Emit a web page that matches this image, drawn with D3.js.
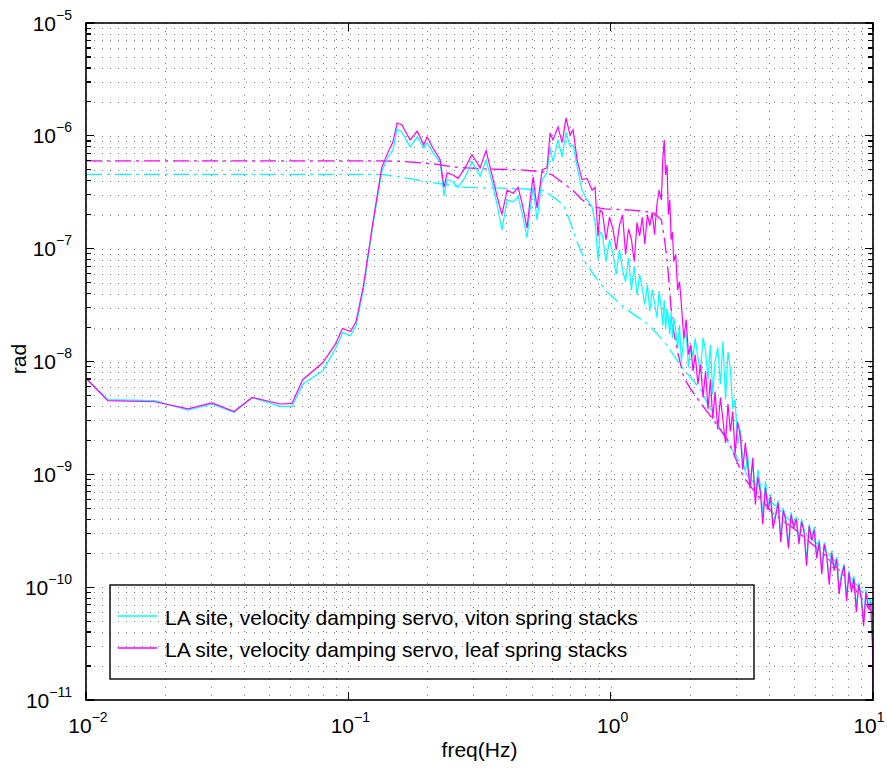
<!DOCTYPE html>
<html>
<head>
<meta charset="utf-8">
<script src="https://cdn.jsdelivr.net/npm/d3@7"></script>
<style>
    body { margin: 0; background: #ffffff; }
    svg { font-family: "Liberation Sans", Arial, Helvetica, sans-serif; }
    .grid line { stroke: #000; stroke-width: 1; stroke-dasharray: 1, 7; shape-rendering: crispEdges; opacity: 0.5; }
    .tick-mark { stroke: #000; stroke-width: 1.2; shape-rendering: crispEdges; }
</style>
</head>
<body>
<svg class="spectrum" width="887" height="769"></svg>
<script>
// frequency bins (Hz), shared by both solid curves
const freq = [
    0.0100, 0.0121, 0.0183, 0.0245, 0.0302, 0.0367, 0.0430, 0.0550, 0.0610, 0.0670,
    0.0800, 0.0890, 0.0950, 0.1020, 0.1070, 0.1140, 0.1240, 0.1340, 0.1417, 0.1480,
    0.1534, 0.1600, 0.1720, 0.1830, 0.1940, 0.1995, 0.2100, 0.2240, 0.2316, 0.2380,
    0.2507, 0.2620, 0.2786, 0.2960, 0.3180, 0.3350, 0.3530, 0.3690, 0.3850, 0.4030,
    0.4250, 0.4436, 0.4590, 0.4800, 0.4930, 0.5060, 0.5240, 0.5480, 0.5720, 0.5875,
    0.6030, 0.6300, 0.6530, 0.6760, 0.7000, 0.7190, 0.7450, 0.7780, 0.8130, 0.8490,
    0.8720, 0.8950, 0.9110,
    0.93, 0.96, 0.99, 1.02, 1.05, 1.08, 1.11, 1.14, 1.17, 1.20,
    1.23, 1.26, 1.29, 1.32, 1.35, 1.38, 1.41, 1.44, 1.47, 1.50,
    1.53, 1.56, 1.58, 1.60, 1.62, 1.64, 1.66, 1.68, 1.70, 1.72,
    1.74, 1.77, 1.80, 1.83, 1.86, 1.90, 1.94, 1.98, 2.02, 2.06,
    2.10, 2.15, 2.20, 2.25, 2.30, 2.35, 2.40, 2.45, 2.50, 2.56,
    2.62, 2.68, 2.74, 2.80, 2.86, 2.92, 2.98, 3.05, 3.12, 3.19,
    3.26, 3.33, 3.40, 3.48, 3.56, 3.64, 3.72, 3.80, 3.89, 3.98,
    4.07, 4.16, 4.25, 4.35, 4.45, 4.55, 4.65, 4.76, 4.87, 4.98,
    5.10, 5.22, 5.34, 5.46, 5.58, 5.71, 5.84, 5.97, 6.10, 6.24,
    6.38, 6.52, 6.66, 6.81, 6.96, 7.11, 7.27, 7.43, 7.59, 7.76,
    7.93, 8.10, 8.28, 8.46, 8.64, 8.83, 9.02, 9.21, 9.40, 9.60,
    9.80, 9.95, 10.0
];

// viton spring stacks (cyan), rad
const vitonStack = [
    7.1e-9, 4.6e-9, 4.5e-9, 3.7e-9, 4.2e-9, 3.55e-9, 4.8e-9, 4.0e-9, 4.0e-9, 6.3e-9,
    8.3e-9, 1.28e-8, 1.8e-8, 1.7e-8, 2.08e-8, 4.3e-8, 1.6e-7, 4.8e-7, 6.5e-7, 7.5e-7,
    1.15e-6, 1.08e-6, 8.0e-7, 9.8e-7, 7.8e-7, 8.7e-7, 7.1e-7, 5.8e-7, 2.95e-7, 4.1e-7,
    3.9e-7, 3.5e-7, 4.3e-7, 5.9e-7, 4.4e-7, 6.1e-7, 3.9e-7, 2.45e-7, 1.47e-7, 2.7e-7,
    2.6e-7, 2.9e-7, 2.1e-7, 1.25e-7, 2.2e-7, 3.5e-7, 1.8e-7, 4.1e-7, 4.7e-7, 7.8e-7,
    5.9e-7, 9.2e-7, 6.5e-7, 1.08e-6, 8.0e-7, 8.3e-7, 5.3e-7, 3.3e-7, 2.7e-7, 2.35e-7,
    1.7e-7, 8.0e-8, 1.4e-7,
    1.33e-7, 7.7e-8, 1.2e-7, 9.0e-8, 5.9e-8, 9.8e-8, 6.5e-8, 5.1e-8, 8.3e-8, 4.3e-8,
    7.0e-8, 3.9e-8, 5.9e-8, 4.4e-8, 3.2e-8, 4.8e-8, 2.8e-8, 4.3e-8, 3.3e-8, 2.45e-8,
    4.2e-8, 2.9e-8, 2.1e-8, 3.5e-8, 1.92e-8, 3.0e-8, 2.4e-8, 1.74e-8, 2.8e-8, 1.6e-8,
    2.45e-8, 1.9e-8, 1.3e-8, 2.1e-8, 1.0e-8, 1.6e-8, 1.74e-8, 8.85e-9, 1.4e-8, 1.1e-8,
    1.6e-8, 1.1e-8, 8.0e-9, 1.63e-8, 1.25e-8, 6.9e-9, 1.4e-8, 5.1e-9, 1.0e-8, 1.33e-8,
    6.3e-9, 1.5e-8, 4.6e-9, 1.22e-8, 8.5e-9, 3.8e-9, 4.6e-9, 1.85e-9, 2.5e-9, 1.3e-9,
    1.06e-9, 1.5e-9, 7.7e-10, 1.3e-9, 6.0e-10, 1.1e-9, 8.0e-10, 4.4e-10, 8.7e-10, 5.2e-10,
    6.65e-10, 3.6e-10, 4.5e-10, 5.9e-10, 2.7e-10, 5.0e-10, 4.1e-10, 2.4e-10, 4.6e-10, 3.6e-10,
    4.2e-10, 2.6e-10, 4.0e-10, 3.3e-10, 1.7e-10, 3.6e-10, 2.8e-10, 3.4e-10, 1.95e-10, 2.65e-10,
    1.4e-10, 2.5e-10, 2.0e-10, 1.15e-10, 2.1e-10, 1.5e-10, 1.85e-10, 9.5e-11, 1.35e-10, 1.6e-10,
    8.2e-11, 1.4e-10, 9.8e-11, 1.25e-10, 6.6e-11, 1.1e-10, 8.6e-11, 5.0e-11, 9.5e-11, 7.0e-11,
    7.7e-11, 3.5e-11, 1.25e-11
];

// leaf spring stacks (magenta), rad
const leafStack = [
    7.1e-9, 4.5e-9, 4.4e-9, 3.8e-9, 4.3e-9, 3.6e-9, 4.8e-9, 4.2e-9, 4.25e-9, 6.9e-9,
    9.8e-9, 1.41e-8, 1.96e-8, 1.84e-8, 2.26e-8, 4.6e-8, 1.7e-7, 5.2e-7, 7.2e-7, 8.85e-7,
    1.3e-6, 1.25e-6, 9.2e-7, 1.1e-6, 8.3e-7, 9.8e-7, 7.8e-7, 6.1e-7, 3.5e-7, 4.7e-7,
    4.5e-7, 4.2e-7, 5.2e-7, 6.8e-7, 5.2e-7, 7.4e-7, 4.5e-7, 2.9e-7, 2.0e-7, 3.3e-7,
    3.1e-7, 3.5e-7, 2.55e-7, 1.53e-7, 2.7e-7, 4.3e-7, 2.3e-7, 5.0e-7, 5.2e-7, 1.06e-6,
    9.2e-7, 1.2e-6, 8.7e-7, 1.44e-6, 1.02e-6, 1.13e-6, 6.1e-7, 4.1e-7, 4.2e-7, 3.3e-7,
    3.5e-7, 1.28e-7, 2.2e-7,
    2.1e-7, 1.2e-7, 1.9e-7, 1.5e-7, 9.8e-8, 1.6e-7, 2.0e-7, 8.9e-8, 1.5e-7, 1.2e-7,
    7.7e-8, 1.7e-7, 1.3e-7, 1.9e-7, 1.1e-7, 2.0e-7, 1.6e-7, 2.1e-7, 1.33e-7, 2.45e-7,
    3.3e-7, 2.7e-7, 6.1e-7, 9.2e-7, 4.5e-7, 5.5e-7, 2.0e-7, 2.7e-7, 1.2e-7, 1.4e-7,
    7.7e-8, 8.9e-8, 4.3e-8, 5.1e-8, 3.2e-8, 1.6e-8, 2.35e-8, 1.15e-8, 1.4e-8, 8.2e-9,
    1.15e-8, 6.3e-9, 9.4e-9, 4.8e-9, 8.2e-9, 3.8e-9, 6.9e-9, 3.1e-9, 5.4e-9, 2.5e-9,
    4.8e-9, 3.0e-9, 1.9e-9, 4.2e-9, 2.4e-9, 3.6e-9, 1.5e-9, 2.9e-9, 2.2e-9, 1.1e-9,
    1.9e-9, 1.2e-9, 7.5e-10, 1.4e-9, 5.4e-10, 9.5e-10, 7.0e-10, 3.6e-10, 7.6e-10, 4.8e-10,
    6.3e-10, 3.3e-10, 4.2e-10, 5.6e-10, 2.5e-10, 4.8e-10, 3.9e-10, 2.2e-10, 4.4e-10, 3.4e-10,
    4.0e-10, 2.4e-10, 3.8e-10, 3.1e-10, 1.55e-10, 3.47e-10, 2.6e-10, 3.2e-10, 1.8e-10, 2.5e-10,
    1.3e-10, 2.4e-10, 1.9e-10, 1.05e-10, 2.0e-10, 1.4e-10, 1.77e-10, 8.7e-11, 1.25e-10, 1.55e-10,
    7.5e-11, 1.35e-10, 9.0e-11, 1.2e-10, 6.0e-11, 1.05e-10, 8.0e-11, 4.5e-11, 9.0e-11, 6.5e-11,
    7.1e-11, 3.1e-11, 1.1e-11
];

// cumulative rms curves (dash-dot)
const vitonRmsFreq = [0.01, 0.134, 0.16, 0.20, 0.28, 0.45, 0.55, 0.60, 0.66, 0.70,
    0.75, 0.80, 0.86, 0.96, 1.15, 1.4, 1.6, 1.85, 2.2, 2.6,
    2.9, 3.3, 4.0, 5.0, 6.5, 8.0, 10];
const vitonRms = [4.55e-7, 4.55e-7, 4.3e-7, 3.9e-7, 3.5e-7, 3.4e-7, 3.3e-7, 2.9e-7, 2.45e-7, 1.74e-7,
    1.1e-7, 7.7e-8, 5.9e-8, 4.2e-8, 2.9e-8, 2.1e-8, 1.5e-8, 9.2e-9, 5.65e-9, 2.6e-9,
    1.66e-9, 1.0e-9, 6.0e-10, 3.6e-10, 2.17e-10, 1.3e-10, 7.1e-11];

const leafRmsFreq = [0.01, 0.134, 0.16, 0.21, 0.25, 0.32, 0.45, 0.55, 0.60, 0.66,
    0.72, 0.78, 0.85, 0.95, 1.2, 1.45, 1.56, 1.60, 1.64, 1.68,
    1.72, 1.8, 1.9, 2.0, 2.2, 2.4, 2.8, 3.2, 3.6, 4.2,
    5.0, 6.5, 8.0, 10];
const leafRms = [6.0e-7, 6.0e-7, 5.95e-7, 5.65e-7, 5.3e-7, 5.1e-7, 5.0e-7, 4.8e-7, 4.5e-7, 3.8e-7,
    3.26e-7, 2.7e-7, 2.35e-7, 2.25e-7, 2.2e-7, 2.1e-7, 1.8e-7, 1.27e-7, 8.0e-8, 4.1e-8,
    2.1e-8, 1.22e-8, 7.2e-9, 5.9e-9, 4.3e-9, 3.3e-9, 2.0e-9, 9.6e-10, 6.65e-10, 4.4e-10,
    3.3e-10, 1.96e-10, 1.18e-10, 5.8e-11];

const xDecades = [-2, -1, 0, 1];
const yDecades = [-11, -10, -9, -8, -7, -6, -5];
const legendLabels = [
    'LA site, velocity damping servo, viton spring stacks',
    'LA site, velocity damping servo, leaf spring stacks'
];

let width = 887, height = 769;
let margin = { top: 23, right: 14, bottom: 69, left: 86 };
let svg = d3.select('.spectrum');

let xscale = d3.scaleLog().domain([1e-2, 10]).range([margin.left, width - margin.right]);
let yscale = d3.scaleLog().domain([1e-11, 1e-5]).range([height - margin.bottom, margin.top]);

let x0 = margin.left, x1 = width - margin.right;
let y0 = height - margin.bottom, y1 = margin.top;

// all grid positions (major + minor)
let xMajor = xDecades.map(e => Math.pow(10, e));
let yMajor = yDecades.map(e => Math.pow(10, e));
let xAll = [], yAll = [];
xDecades.slice(0, -1).forEach(e => { for (let k = 1; k < 10; k++) xAll.push(k * Math.pow(10, e)) });
xAll.push(10);
yDecades.slice(0, -1).forEach(e => { for (let k = 1; k < 10; k++) yAll.push(k * Math.pow(10, e)) });
yAll.push(1e-5);

svg.append('defs').append('clipPath').attr('id', 'plotclip')
    .append('rect').attr('x', x0).attr('y', y1).attr('width', x1 - x0).attr('height', y0 - y1);

// dotted grid
let grid = svg.append('g').attr('class', 'grid');
grid.selectAll('.vg').data(xAll).join('line').attr('class', 'vg')
    .attr('x1', d => Math.round(xscale(d)) + 0.5).attr('x2', d => Math.round(xscale(d)) + 0.5)
    .attr('y1', y1).attr('y2', y0);
grid.selectAll('.hg').data(yAll).join('line').attr('class', 'hg')
    .attr('y1', d => Math.round(yscale(d)) + 0.5).attr('y2', d => Math.round(yscale(d)) + 0.5)
    .attr('x1', x0).attr('x2', x1);

let line = d3.line().x(d => xscale(d[0])).y(d => yscale(d[1]));

let plot = svg.append('g').attr('clip-path', 'url(#plotclip)');

plot.append('path').datum(d3.zip(vitonRmsFreq, vitonRms))
    .attr('d', line).style('fill', 'none').style('stroke', '#00ffff')
    .style('stroke-width', 1.3).style('stroke-dasharray', '16,5,3,5');
plot.append('path').datum(d3.zip(leafRmsFreq, leafRms))
    .attr('d', line).style('fill', 'none').style('stroke', '#ff00ff')
    .style('stroke-width', 1.3).style('stroke-dasharray', '16,5,3,5');

plot.append('path').datum(d3.zip(freq, vitonStack))
    .attr('d', line).style('fill', 'none').style('stroke', '#00ffff').style('stroke-width', 1.2);
plot.append('path').datum(d3.zip(freq, leafStack))
    .attr('d', line).style('fill', 'none').style('stroke', '#ff00ff').style('stroke-width', 1.2);

// ticks on all four sides, pointing inward
let ticks = svg.append('g');
ticks.selectAll('.ytl').data(yAll).join('line').attr('class', 'tick-mark')
    .attr('x1', x0).attr('x2', d => x0 + (yMajor.indexOf(d) >= 0 ? 8 : 5))
    .attr('y1', d => yscale(d)).attr('y2', d => yscale(d));
ticks.selectAll('.ytr').data(yAll).join('line').attr('class', 'tick-mark')
    .attr('x1', x1).attr('x2', d => x1 - (yMajor.indexOf(d) >= 0 ? 8 : 5))
    .attr('y1', d => yscale(d)).attr('y2', d => yscale(d));
ticks.selectAll('.xtb').data(xMajor).join('line').attr('class', 'tick-mark')
    .attr('x1', d => xscale(d)).attr('x2', d => xscale(d))
    .attr('y1', y0).attr('y2', y0 - 8);
ticks.selectAll('.xtt').data(xMajor).join('line').attr('class', 'tick-mark')
    .attr('x1', d => xscale(d)).attr('x2', d => xscale(d))
    .attr('y1', y1).attr('y2', y1 + 8);

svg.append('rect').attr('x', x0).attr('y', y1).attr('width', x1 - x0).attr('height', y0 - y1)
    .style('fill', 'none').style('stroke', '#000').style('stroke-width', 1.6);

// tick labels 10^n
let yLab = svg.append('g').selectAll('text').data(yDecades).join('text')
    .attr('x', 72).attr('y', d => yscale(Math.pow(10, d)) + 7.5)
    .attr('text-anchor', 'end').style('font-size', '21px');
yLab.append('tspan').text('10');
yLab.append('tspan').attr('dy', -11).style('font-size', '14px').text(d => '\u2212' + Math.abs(d));

let xLab = svg.append('g').selectAll('text').data(xDecades).join('text')
    .attr('x', d => Math.min(xscale(Math.pow(10, d)) + 2, 869)).attr('y', 733)
    .attr('text-anchor', 'middle').style('font-size', '21px');
xLab.append('tspan').text('10');
xLab.append('tspan').attr('dy', -11).style('font-size', '14px')
    .text(d => d < 0 ? '\u2212' + Math.abs(d) : d);

svg.append('text').attr('x', (x0 + x1) / 2).attr('y', 757)
    .attr('text-anchor', 'middle').style('font-size', '21px').text('freq(Hz)');
svg.append('text').attr('transform', 'translate(26,359)rotate(-90)')
    .attr('text-anchor', 'middle').style('font-size', '21px').text('rad');

// legend
let legend = svg.append('g');
legend.append('rect').attr('x', 110).attr('y', 585).attr('width', 644).attr('height', 94)
    .style('fill', 'none').style('stroke', '#000').style('stroke-width', 1.4);
let legendColors = ['#00ffff', '#ff00ff'];
legendLabels.forEach((t, i) => {
    let ly = 616 + i * 32;
    legend.append('line').attr('x1', 118).attr('x2', 157).attr('y1', ly).attr('y2', ly)
        .style('stroke', legendColors[i]).style('stroke-width', 1.3);
    legend.append('text').attr('x', 165).attr('y', ly + 8.5)
        .style('font-size', '21px').text(t);
});
</script>
</body>
</html>
